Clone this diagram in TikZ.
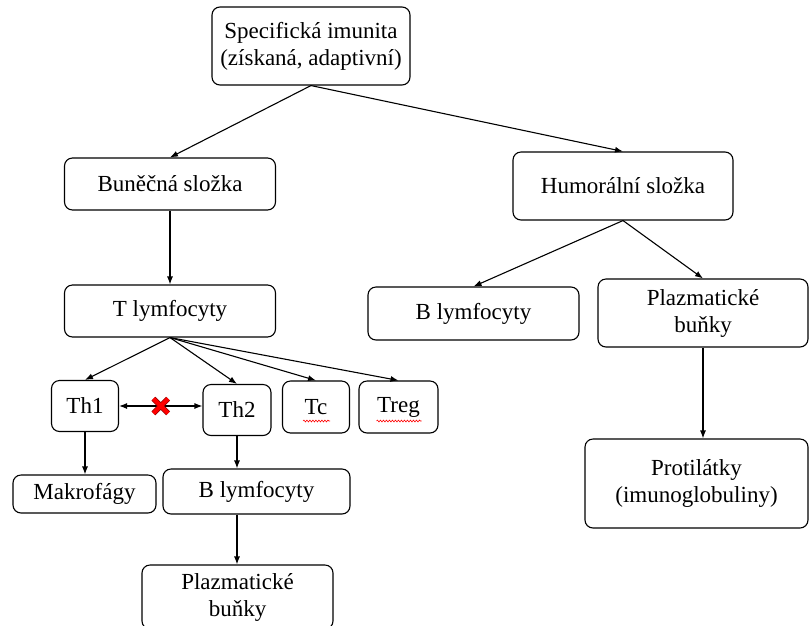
\documentclass[tikz,border=0pt]{standalone}
\usepackage{fontspec}
\setmainfont{Liberation Serif}
\usetikzlibrary{positioning,arrows.meta,calc,shapes.misc,decorations.pathmorphing}

\begin{document}
\begin{tikzpicture}[x=1pt, y=-1pt, every node/.style={font=\fontsize{23}{27}\selectfont}]
  \tikzset{
    box/.style={draw, line width=1.1pt, rounded corners=8pt, align=center, inner sep=0pt},
    arr/.style={-{Latex[length=8pt,width=6pt]}, line width=1.1pt},
    blocked/.style={cross out, draw=red!55!black, double=red, double distance=4pt, line width=0.7pt, minimum size=14pt, inner sep=0pt},
    spell/.style={draw=red, line width=0.6pt, decorate, decoration={snake, amplitude=0.9pt, segment length=3pt}}
  }
  \useasboundingbox (0,0) rectangle (811,625);

  % top level
  \node[box, minimum width=198pt, minimum height=78pt] (imunita) at (311,46) {Specifická imunita\\(získaná, adaptivní)};

  % two branches
  \node[box, minimum width=211pt, minimum height=52pt] (bunecna)   at (170,184) {Buněčná složka};
  \node[box, minimum width=220pt, minimum height=68pt] (humoralni) at (623,186) {Humorální složka};

  % cellular part
  \node[box, minimum width=211pt, minimum height=52pt] (tlymf) at (170,311) {T lymfocyty};
  \node[box, minimum width=67pt, minimum height=51pt]  (th1)   at (85,406)  {Th1};
  \node[box, minimum width=68pt, minimum height=51pt]  (th2)   at (237,410) {Th2};
  \node[box, minimum width=67pt, minimum height=52pt]  (tc)    at (316,407) {Tc};
  \node[box, minimum width=79pt, minimum height=52pt]  (treg)  at (398.5,407) {Treg};
  \node[box, minimum width=143pt, minimum height=38pt] (makro) at (84.5,494) {Makrofágy};
  \node[box, minimum width=187pt, minimum height=45pt] (blymL) at (256.5,491.5) {B lymfocyty};
  \node[box, minimum width=191pt, minimum height=64pt] (plazL) at (237.5,597) {Plazmatické\\buňky};

  % humoral part
  \node[box, minimum width=211pt, minimum height=53pt] (blymR)  at (473.5,313.5) {B lymfocyty};
  \node[box, minimum width=210pt, minimum height=68pt] (plazR)  at (703,313)   {Plazmatické\\buňky};
  \node[box, minimum width=223pt, minimum height=89pt] (protil) at (696.5,483.5) {Protilátky\\(imunoglobuliny)};

  % connectors
  \draw[arr] (imunita.south) -- (bunecna.north);
  \draw[arr] (imunita.south) -- (humoralni.north);
  \draw[arr] (bunecna.south) -- (tlymf.north);
  \foreach \t in {th1,th2,tc,treg}
    \draw[arr] (tlymf.south) -- (\t.north);
  \draw[arr, {Latex[length=8pt,width=6pt]}-{Latex[length=8pt,width=6pt]}] (th1.east) -- (th1.east -| th2.west);
  \node[blocked] (stop) at ($(th1.east)!0.5!(th1.east -| th2.west)$) {};
  \draw[arr] (th1.south) -- (makro.north -| th1.south);
  \draw[arr] (th2.south) -- (blymL.north -| th2.south);
  \draw[arr] (blymL.south -| th2.south) -- (plazL.north -| th2.south);
  \draw[arr] (humoralni.south) -- (blymR.north);
  \draw[arr] (humoralni.south) -- (plazR.north);
  \draw[arr] (plazR.south) -- (protil.north -| plazR.south);

  % spell-check marks
  \draw[spell] ($(tc.center)+(-13,14)$) -- ($(tc.center)+(14,14)$);
  \draw[spell] ($(treg.center)+(-22,14)$) -- ($(treg.center)+(23,14)$);
\end{tikzpicture}
\end{document}
